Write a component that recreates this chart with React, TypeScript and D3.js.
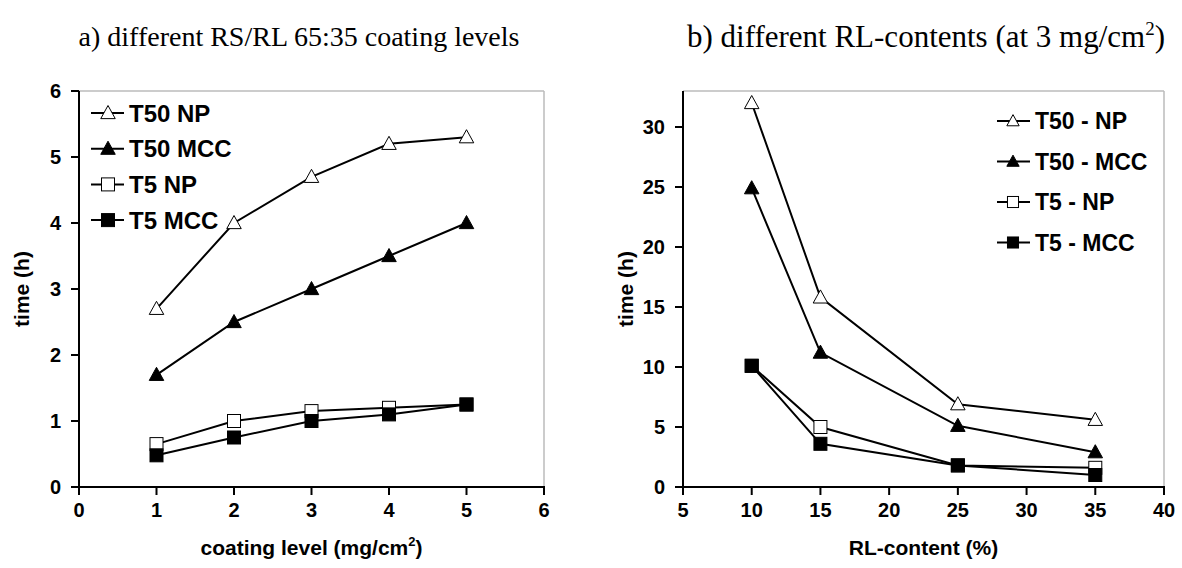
import React from "react";
import * as d3 from "d3";

const coatingLevels = [1, 2, 3, 4, 5];
const aT50NP = [2.7, 4.0, 4.7, 5.2, 5.3];
const aT50MCC = [1.7, 2.5, 3.0, 3.5, 4.0];
const aT5NP = [0.65, 1.0, 1.15, 1.2, 1.25];
const aT5MCC = [0.48, 0.75, 1.0, 1.1, 1.25];

const rlContents = [10, 15, 25, 35];
const bT50NP = [32, 15.8, 6.9, 5.6];
const bT50MCC = [24.9, 11.2, 5.1, 2.9];
const bT5NP = [10.1, 5.0, 1.8, 1.6];
const bT5MCC = [10.1, 3.6, 1.8, 1.0];

const aXTicks = [0, 1, 2, 3, 4, 5, 6];
const aYTicks = [0, 1, 2, 3, 4, 5, 6];
const bXTicks = [5, 10, 15, 20, 25, 30, 35, 40];
const bYTicks = [0, 5, 10, 15, 20, 25, 30];

const aNames = ["T50 NP", "T50 MCC", "T5 NP", "T5 MCC"];
const bNames = ["T50 - NP", "T50 - MCC", "T5 - NP", "T5 - MCC"];

type Kind = "triOpen" | "triFill" | "sqOpen" | "sqFill";
const kinds: Kind[] = ["triOpen", "triFill", "sqOpen", "sqFill"];

const SANS = "'Liberation Sans', Arial, sans-serif";
const SERIF = "'Liberation Serif', 'Times New Roman', serif";

function Marker({ x, y, kind, s = 1 }: { x: number; y: number; kind: Kind; s?: number }) {
  const fill = kind === "triFill" || kind === "sqFill" ? "#000" : "#fff";
  if (kind === "triOpen" || kind === "triFill") {
    const h = 12.5 * s, w = 14.5 * s;
    const p = `M${x},${y - h * 0.6} L${x + w / 2},${y + h * 0.45} L${x - w / 2},${y + h * 0.45} Z`;
    return <path d={p} fill={fill} stroke="#000" strokeWidth={1} />;
  }
  const a = 13 * s;
  return <rect x={x - a / 2} y={y - a / 2} width={a} height={a} fill={fill} stroke="#000" strokeWidth={1} />;
}

function Panel(props: {
  left: number; right: number; top: number; bottom: number;
  xDom: [number, number]; yDom: [number, number];
  xTicks: number[]; yTicks: number[]; xs: number[]; series: number[][];
  xTitle: React.ReactNode; yTitleX: number;
}) {
  const { left, right, top, bottom, xDom, yDom, xTicks, yTicks, xs, series } = props;
  const x = d3.scaleLinear().domain(xDom).range([left, right]);
  const y = d3.scaleLinear().domain(yDom).range([bottom, top]);
  const line = d3.line<[number, number]>().x(d => x(d[0])).y(d => y(d[1]));
  return (
    <g>
      <line x1={left} x2={right} y1={top} y2={top} stroke="#999" strokeWidth={1} />
      <line x1={right} x2={right} y1={top} y2={bottom} stroke="#bbb" strokeWidth={1.5} />
      <line x1={left} x2={left} y1={top} y2={bottom + 1} stroke="#000" strokeWidth={2} />
      <line x1={left - 1} x2={right + 1} y1={bottom} y2={bottom} stroke="#000" strokeWidth={2} />
      {yTicks.map(t => (
        <g key={"y" + t}>
          <line x1={left - 8} x2={left} y1={y(t)} y2={y(t)} stroke="#000" strokeWidth={2} />
          <text x={left - 18} y={y(t)} dy="0.36em" textAnchor="end" fontFamily={SANS} fontWeight="bold" fontSize={20}>{t}</text>
        </g>
      ))}
      {xTicks.map(t => (
        <g key={"x" + t}>
          <line x1={x(t)} x2={x(t)} y1={bottom} y2={bottom + 8} stroke="#000" strokeWidth={2} />
          <text x={x(t)} y={bottom + 30} textAnchor="middle" fontFamily={SANS} fontWeight="bold" fontSize={20}>{t}</text>
        </g>
      ))}
      {series.map((s, i) => (
        <path key={"l" + i} d={line(xs.map((v, j) => [v, s[j]] as [number, number])) || ""} fill="none" stroke="#000" strokeWidth={2} />
      ))}
      {series.map((s, i) =>
        xs.map((v, j) => <Marker key={`m${i}-${j}`} x={x(v)} y={y(s[j])} kind={kinds[i]} />)
      )}
      <text x={(left + right) / 2} y={bottom + 68} textAnchor="middle" fontFamily={SANS} fontWeight="bold" fontSize={21}>{props.xTitle}</text>
      <text transform={`translate(${props.yTitleX},${(top + bottom) / 2}) rotate(-90)`} textAnchor="middle" dy="0.35em" fontFamily={SANS} fontWeight="bold" fontSize={21}>time (h)</text>
    </g>
  );
}

export default function App() {
  return (
    <svg width={1182} height={568} style={{ position: "absolute", left: 0, top: 0, background: "#fff" }}>
      <rect width={1182} height={568} fill="#fff" />
      <text x={299} y={46} textAnchor="middle" fontFamily={SERIF} fontSize={28}>a) different RS/RL 65:35 coating levels</text>
      <text x={926} y={47} textAnchor="middle" fontFamily={SERIF} fontSize={31}>
        b) different RL-contents (at 3 mg/cm<tspan dy={-12} fontSize={19}>2</tspan><tspan dy={12}>)</tspan>
      </text>
      <Panel left={79} right={544} top={91} bottom={487} xDom={[0, 6]} yDom={[0, 6]}
        xTicks={aXTicks} yTicks={aYTicks} xs={coatingLevels}
        series={[aT50NP, aT50MCC, aT5NP, aT5MCC]}
        xTitle={<>coating level (mg/cm<tspan dy={-9} fontSize={13}>2</tspan><tspan dy={9}>)</tspan></>}
        yTitleX={22} />
      <Panel left={683} right={1164} top={91} bottom={487} xDom={[5, 40]} yDom={[0, 33]}
        xTicks={bXTicks} yTicks={bYTicks} xs={rlContents}
        series={[bT50NP, bT50MCC, bT5NP, bT5MCC]}
        xTitle={"RL-content (%)"} yTitleX={626} />
      {aNames.map((n, i) => {
        const yy = 113 + i * 35.7;
        return (
          <g key={n}>
            <line x1={91} x2={124} y1={yy} y2={yy} stroke="#000" strokeWidth={2} />
            <Marker x={108} y={yy} kind={kinds[i]} />
            <text x={129} y={yy} dy="0.36em" fontFamily={SANS} fontWeight="bold" fontSize={24}>{n}</text>
          </g>
        );
      })}
      {bNames.map((n, i) => {
        const yy = 121 + i * 40.5;
        return (
          <g key={n}>
            <line x1={997} x2={1030} y1={yy} y2={yy} stroke="#000" strokeWidth={2} />
            <Marker x={1013} y={yy} kind={kinds[i]} s={0.85} />
            <text x={1035} y={yy} dy="0.36em" fontFamily={SANS} fontWeight="bold" fontSize={23}>{n}</text>
          </g>
        );
      })}
    </svg>
  );
}
